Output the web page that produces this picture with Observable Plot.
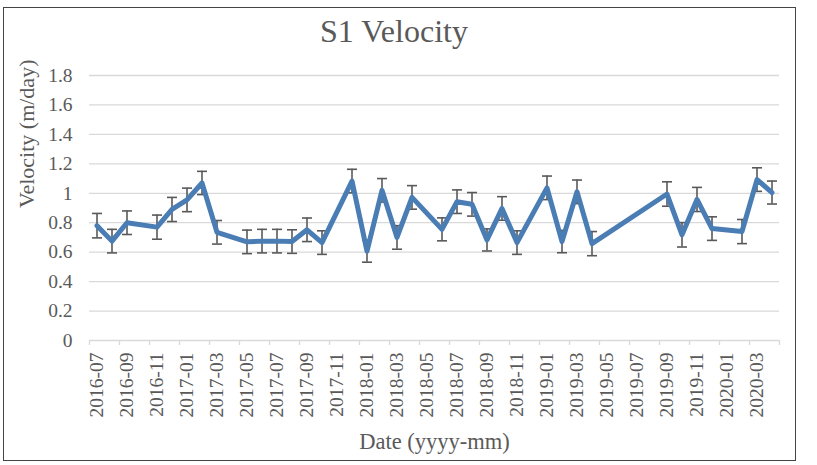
<!DOCTYPE html>
<html>
<head>
<meta charset="utf-8">
<script src="https://cdn.jsdelivr.net/npm/d3@7"></script>
<script src="https://cdn.jsdelivr.net/npm/@observablehq/plot@0.6"></script>
<style>
  html, body { margin: 0; padding: 0; background: #fff; }
  #wrap { position: relative; width: 817px; height: 465px; overflow: hidden; }
  #border { position: absolute; left: 3px; top: 7px; width: 793px; height: 454px; border: 1.5px solid #444; box-sizing: border-box; pointer-events: none; }
  #title { position: absolute; left: 0; top: 0; width: 788px; height: 60px; box-sizing: border-box; padding-top: 13px;
           text-align: center; font-family: "Liberation Serif", "Times New Roman", Times, "DejaVu Serif", serif; font-size: 32px; line-height: 36px; color: #595959; }
  #chart { position: absolute; left: 0; top: 60px; }
  #chart svg, #chart svg text { font-family: "Liberation Serif", "Times New Roman", Times, "DejaVu Serif", serif !important; }
</style>
</head>
<body>
<div id="wrap">
  <div id="title">S1 Velocity</div>
  <div id="chart"></div>
  <div id="border"></div>
</div>
<script>
const months = ["2016-07","2016-08","2016-09","2016-11","2016-12","2017-01","2017-02","2017-03","2017-05","2017-06","2017-07","2017-08","2017-09","2017-10","2017-12","2018-01","2018-02","2018-03","2018-04","2018-06","2018-07","2018-08","2018-09","2018-10","2018-11","2019-01","2019-02","2019-03","2019-04","2019-09","2019-10","2019-11","2019-12","2020-02","2020-03","2020-04"];
const velocity = [0.78,0.675,0.80,0.77,0.89,0.955,1.07,0.735,0.67,0.675,0.675,0.672,0.752,0.665,1.083,0.607,1.02,0.70,0.972,0.755,0.943,0.925,0.683,0.897,0.665,1.037,0.672,1.01,0.658,0.995,0.718,0.958,0.76,0.74,1.093,1.005];
const errors = [0.083,0.08,0.08,0.082,0.082,0.08,0.079,0.08,0.08,0.08,0.08,0.08,0.08,0.08,0.08,0.075,0.08,0.08,0.08,0.078,0.08,0.08,0.075,0.08,0.08,0.08,0.076,0.08,0.082,0.083,0.083,0.082,0.08,0.082,0.08,0.078];
const tickLabels = ["2016-07","2016-09","2016-11","2017-01","2017-03","2017-05","2017-07","2017-09","2017-11","2018-01","2018-03","2018-05","2018-07","2018-09","2018-11","2019-01","2019-03","2019-05","2019-07","2019-09","2019-11","2020-01","2020-03"];
const yTicks = [0,0.2,0.4,0.6,0.8,1.0,1.2,1.4,1.6,1.8];
const startMonth = "2016-07";
const endMonth = "2020-05";

const monthIndex = s => {
  const [y, m] = s.split("-").map(Number);
  const [y0, m0] = startMonth.split("-").map(Number);
  return (y - y0) * 12 + (m - m0);
};

const data = months.map((m, i) => ({x: monthIndex(m) + 0.5, v: velocity[i], e: errors[i]}));
const domainEnd = monthIndex(endMonth);
const tickPositions = d3.range(0, domainEnd + 1, 2);
const labelPositions = tickLabels.map(s => monthIndex(s) + 0.5);
const labelByPos = new Map(labelPositions.map((p, i) => [p, tickLabels[i]]));

const capSymbol = {
  draw(ctx, size) {
    const r = Math.sqrt(size / Math.PI);
    ctx.moveTo(-r, 0);
    ctx.lineTo(r, 0);
  }
};

const textColor = "#595959";
const gridColor = "#d9d9d9";
const serif = "'Liberation Serif', 'Times New Roman', Times, 'DejaVu Serif', serif";

const plot = Plot.plot({
  width: 817,
  height: 405,
  marginLeft: 89,
  marginRight: 38,
  marginTop: 15,
  marginBottom: 125,
  style: {fontSize: "19px", color: textColor, background: "transparent"},
  x: {type: "linear", domain: [0, domainEnd]},
  y: {domain: [0, 1.8]},
  marks: [
    Plot.gridY(yTicks, {stroke: gridColor, strokeOpacity: 1, strokeWidth: 1.3}),
    Plot.axisY(yTicks, {tickSize: 0, tickPadding: 17, tickFormat: d => String(+d.toFixed(1)), fill: textColor, fontSize: 19.5, fontFamily: serif, label: null}),
    Plot.axisX(tickPositions, {tickSize: 5, tickFormat: () => "", stroke: gridColor, strokeWidth: 1.3, label: null}),
    Plot.axisX(labelPositions, {tickSize: 0, tickPadding: 12, tickRotate: -90, tickFormat: d => labelByPos.get(d), fill: textColor, fontSize: 19.5, fontFamily: serif, label: null}),
    Plot.ruleX(data, {x: "x", y1: d => d.v - d.e, y2: d => d.v + d.e, stroke: "#595959", strokeWidth: 1.6}),
    Plot.dot(data, {x: "x", y: d => d.v + d.e, symbol: capSymbol, r: 5, stroke: "#595959", strokeWidth: 1.6, fill: "none"}),
    Plot.dot(data, {x: "x", y: d => d.v - d.e, symbol: capSymbol, r: 5, stroke: "#595959", strokeWidth: 1.6, fill: "none"}),
    Plot.line(data, {x: "x", y: "v", stroke: "#4a7db4", strokeWidth: 5, strokeLinejoin: "round", strokeLinecap: "round"}),
    Plot.text(["Date (yyyy-mm)"], {frameAnchor: "bottom", dy: 101, fontSize: 22.5, fontFamily: serif, fill: textColor, lineAnchor: "middle"}),
    Plot.text(["Velocity (m/day)"], {frameAnchor: "left", dx: -63, rotate: -90, fontSize: 22, fontFamily: serif, fill: textColor, lineAnchor: "middle"})
  ]
});
document.getElementById("chart").appendChild(plot);
</script>
</body>
</html>
